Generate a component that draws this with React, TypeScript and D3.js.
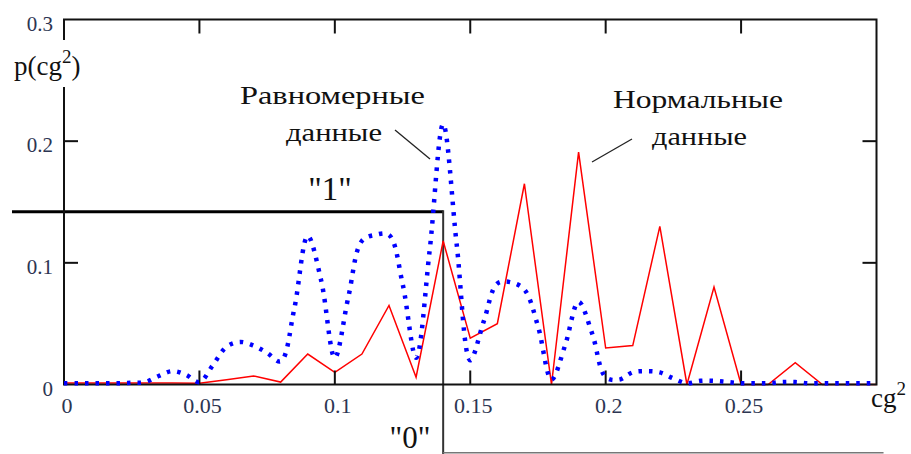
import React from "react";
import * as d3 from "d3";

const W = 911;
const H = 454;

// axis ticks
const xTicks = [0, 0.05, 0.1, 0.15, 0.2, 0.25];
const xTickLabels = ["0", "0.05", "0.1", "0.15", "0.2", "0.25"];
const yTicks = [0, 0.1, 0.2, 0.3];
const yTickLabels = ["0", "0.1", "0.2", "0.3"];
const innerXTicks = [0.05, 0.1, 0.15, 0.2, 0.25];
const innerYTicks = [0.1, 0.2];

// "Нормальные данные" (red polyline)
const normalX = [0, 0.01, 0.02, 0.03, 0.04, 0.05, 0.06, 0.07, 0.08, 0.09, 0.1, 0.11, 0.12, 0.13, 0.14, 0.15, 0.16, 0.17, 0.18, 0.19, 0.2, 0.21, 0.22, 0.23, 0.24, 0.25, 0.26, 0.27, 0.28, 0.29, 0.3];
const normalY = [0.0012, 0.0012, 0.0012, 0.0012, 0.0012, 0.001, 0.004, 0.007, 0.002, 0.025, 0.01, 0.025, 0.065, 0.006, 0.118, 0.038, 0.05, 0.165, 0, 0.191, 0.03, 0.032, 0.13, 0, 0.08, 0, 0, 0.018, 0, 0, 0];

// "Равномерные данные" (blue dotted curve)
const uniformX = [0, 0.005, 0.01, 0.015, 0.02, 0.025, 0.03, 0.035, 0.04, 0.045, 0.05, 0.055, 0.06, 0.065, 0.07, 0.075, 0.08, 0.085, 0.09, 0.095, 0.1, 0.105, 0.11, 0.115, 0.12, 0.125, 0.13, 0.135, 0.14, 0.145, 0.15, 0.155, 0.16, 0.165, 0.17, 0.175, 0.18, 0.185, 0.19, 0.195, 0.2, 0.205, 0.21, 0.215, 0.22, 0.225, 0.23, 0.235, 0.24, 0.245, 0.25, 0.255, 0.26, 0.265, 0.27, 0.275, 0.28, 0.285, 0.29, 0.295, 0.3];
const uniformY = [0.001, 0.001, 0.001, 0.001, 0.001, 0.0015, 0.002, 0.007, 0.011, 0.008, 0.002, 0.016, 0.031, 0.035, 0.032, 0.026, 0.019, 0.062, 0.122, 0.085, 0.022, 0.072, 0.118, 0.123, 0.123, 0.083, 0.022, 0.11, 0.214, 0.115, 0.02, 0.052, 0.083, 0.084, 0.078, 0.048, 0.004, 0.032, 0.068, 0.042, 0.006, 0.004, 0.01, 0.011, 0.01, 0.005, 0.001, 0.003, 0.003, 0.002, 0.001, 0.001, 0.001, 0.002, 0.002, 0.001, 0.001, 0.001, 0.001, 0.001, 0.001];

// threshold step ("1" / "0")
const stepThreshold = 0.14;
const stepStart = -0.0192;
const stepEnd = 0.3026;
const levelOne = 0.142;
const levelZero = -0.056;
const stepBottom = -0.058;

const FONT = "'Liberation Serif', 'Times New Roman', serif";
const NUM_COLOR = "#2c3552";

export default function App() {
  const x = d3.scaleLinear().domain([0, 0.3]).range([64, 876.5]);
  const y = d3.scaleLinear().domain([0, 0.3]).range([384.5, 19.5]);

  const redLine = d3
    .line<number>()
    .x((_, i) => x(normalX[i]))
    .y((d) => y(d));
  const blueLine = d3
    .line<number>()
    .x((_, i) => x(uniformX[i]))
    .y((d) => y(d))
    .curve(d3.curveCatmullRom.alpha(0.5));

  const x0 = x(0), x1 = x(0.3), y0 = y(0), y1 = y(0.3);
  const tickLen = 14;

  return (
    <svg
      width={W}
      height={H}
      viewBox={`0 0 ${W} ${H}`}
      style={{ position: "absolute", left: 0, top: 0, background: "#fff" }}
      fontFamily={FONT}
    >
      <rect x={0} y={0} width={W} height={H} fill="#fff" />

      {/* step function lines */}
      <line x1={x(stepStart)} x2={x(stepThreshold)} y1={y(levelOne)} y2={y(levelOne)} stroke="#000" strokeWidth={3} />
      <line x1={x(stepThreshold)} x2={x(stepThreshold)} y1={y(levelOne) - 1.5} y2={y(stepBottom)} stroke="#333" strokeWidth={2} />
      <line x1={x(stepThreshold)} x2={x(stepEnd)} y1={y(levelZero)} y2={y(levelZero)} stroke="#777" strokeWidth={1.5} />

      {/* red normal data */}
      <path d={redLine(normalY) || ""} fill="none" stroke="#ff0000" strokeWidth={1.5} strokeLinejoin="miter" />

      {/* frame */}
      <rect x={x0} y={y1} width={x1 - x0} height={y0 - y1} fill="none" stroke="#111" strokeWidth={2} />
      {innerXTicks.map((t) => (
        <g key={"xt" + t}>
          <line x1={x(t)} x2={x(t)} y1={y0} y2={y0 - tickLen} stroke="#111" strokeWidth={2} />
          <line x1={x(t)} x2={x(t)} y1={y1} y2={y1 + tickLen} stroke="#111" strokeWidth={2} />
        </g>
      ))}
      {innerYTicks.map((t) => (
        <g key={"yt" + t}>
          <line x1={x0} x2={x0 + tickLen} y1={y(t)} y2={y(t)} stroke="#111" strokeWidth={2} />
          <line x1={x1} x2={x1 - tickLen} y1={y(t)} y2={y(t)} stroke="#111" strokeWidth={2} />
        </g>
      ))}

      {/* blue uniform data */}
      <path
        d={blueLine(uniformY) || ""}
        fill="none"
        stroke="#0000ff"
        strokeWidth={4.5}
        strokeDasharray="3.5 7"
      />

      {/* tick labels */}
      {xTicks.map((t, i) => (
        <text key={"xl" + t} x={x(t) + 3} y={413} textAnchor="middle" fontSize={22} fill={NUM_COLOR}>
          {xTickLabels[i]}
        </text>
      ))}
      {yTicks.map((t, i) => (
        <text key={"yl" + t} x={53} y={y(t) + 11} textAnchor="end" fontSize={21} fill={NUM_COLOR}>
          {yTickLabels[i]}
        </text>
      ))}

      {/* axis titles */}
      <rect x={57} y={40} width={14} height={47} fill="#fff" />
      <text x={14} y={75} fontSize={27} fill="#111">
        <tspan>p(cg</tspan>
        <tspan dy={-12} fontSize={19}>2</tspan>
        <tspan dy={12}>)</tspan>
      </text>
      <text x={871} y={407} fontSize={27} fill="#111">
        <tspan>cg</tspan>
        <tspan dy={-12} fontSize={19}>2</tspan>
      </text>

      {/* annotations */}
      <text x={240} y={104} fontSize={26} fill="#111" textLength={185} lengthAdjust="spacingAndGlyphs">Равномерные</text>
      <text x={286} y={141} fontSize={26} fill="#111" textLength={96} lengthAdjust="spacingAndGlyphs">данные</text>
      <text x={613} y={108} fontSize={26} fill="#111" textLength={170} lengthAdjust="spacingAndGlyphs">Нормальные</text>
      <text x={652} y={145} fontSize={26} fill="#111" textLength={95} lengthAdjust="spacingAndGlyphs">данные</text>
      <line x1={395} y1={130} x2={430} y2={159} stroke="#222" strokeWidth={1.3} />
      <line x1={592} y1={162} x2={632} y2={139} stroke="#222" strokeWidth={1.3} />

      <text x={330} y={200} fontSize={33} fill="#111" textAnchor="middle">"1"</text>
      <text x={410} y={448} fontSize={31} fill="#111" textAnchor="middle">"0"</text>
    </svg>
  );
}
